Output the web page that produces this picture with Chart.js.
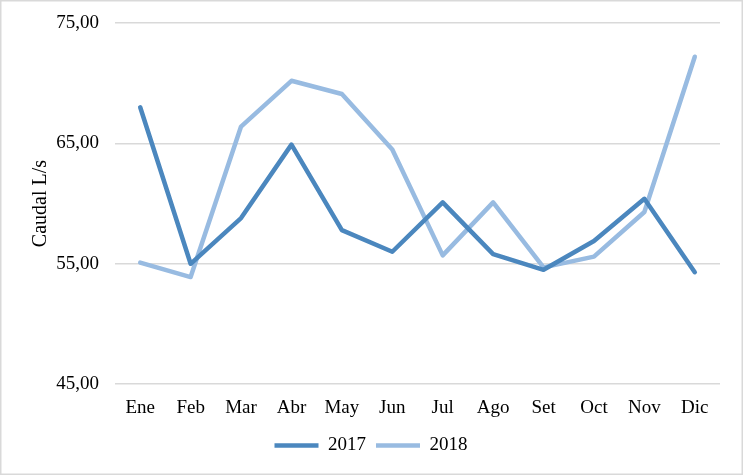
<!DOCTYPE html>
<html>
<head>
<meta charset="utf-8">
<script src="https://cdn.jsdelivr.net/npm/chart.js@4/dist/chart.umd.min.js"></script>
<style>
  html, body { margin: 0; padding: 0; background: #fff; }
  #wrap { width: 743px; height: 475px; }
</style>
</head>
<body>
<div id="wrap"><canvas id="chart"></canvas></div>
<script>
// Datos del gráfico
const meses = ["Ene", "Feb", "Mar", "Abr", "May", "Jun", "Jul", "Ago", "Set", "Oct", "Nov", "Dic"];
const caudal2017 = [68.0, 55.0, 58.8, 64.9, 57.8, 56.0, 60.1, 55.8, 54.5, 56.9, 60.4, 54.3];
const caudal2018 = [55.1, 53.9, 66.4, 70.2, 69.1, 64.5, 55.7, 60.1, 54.7, 55.6, 59.3, 72.2];
const yMin = 45, yMax = 75, yStep = 10;

const fuente = "'Liberation Serif', 'Times New Roman', serif";

// Marco gris alrededor del gráfico
const marco = {
  id: "marco",
  afterDraw(chart) {
    const ctx = chart.ctx;
    ctx.save();
    ctx.strokeStyle = "#d9d9d9";
    ctx.lineWidth = 1.5;
    ctx.strokeRect(0.75, 0.75, chart.width - 1.5, chart.height - 1.5);
    ctx.restore();
  },
};

const ctx = document.getElementById("chart").getContext("2d");
new Chart(ctx, {
  type: "line",
  data: {
    labels: meses,
    datasets: [
      {
        label: "2017",
        data: caudal2017,
        borderColor: "#4b87be",
        backgroundColor: "#4b87be",
        borderWidth: 4.5,
        borderCapStyle: "round",
        borderJoinStyle: "round",
        pointRadius: 0,
        tension: 0,
        fill: false,
      },
      {
        label: "2018",
        data: caudal2018,
        borderColor: "#98bbe1",
        backgroundColor: "#98bbe1",
        borderWidth: 4.5,
        borderCapStyle: "round",
        borderJoinStyle: "round",
        pointRadius: 0,
        tension: 0,
        fill: false,
      },
    ],
  },
  options: {
    responsive: true,
    maintainAspectRatio: false,
    animation: false,
    layout: {
      padding: { left: 22, right: 23, top: 23, bottom: 10 },
    },
    plugins: {
      tooltip: { enabled: false },
      legend: {
        position: "bottom",
        labels: {
          usePointStyle: true,
          pointStyle: "line",
          pointStyleWidth: 44,
          boxHeight: 19,
          color: "#000",
          padding: 10,
          font: { family: fuente, size: 19 },
        },
      },
    },
    scales: {
      x: {
        offset: true,
        afterFit: (scale) => {
          scale.height -= 5;
        },
        grid: { display: false, drawTicks: false },
        border: { display: false },
        ticks: {
          color: "#000",
          padding: 12,
          maxRotation: 0,
          font: { family: fuente, size: 19 },
        },
      },
      y: {
        min: yMin,
        max: yMax,
        afterFit: (scale) => {
          scale.width = 93;
          scale.paddingTop = 0;
          scale.paddingBottom = 0;
        },
        grid: { color: "#d9d9d9", lineWidth: 1.5, drawTicks: false },
        border: { display: false },
        ticks: {
          stepSize: yStep,
          color: "#000",
          padding: 16,
          font: { family: fuente, size: 19 },
          callback: (v) => v.toFixed(2).replace(".", ","),
        },
        title: {
          display: true,
          text: "Caudal L/s",
          color: "#000",
          padding: { top: 7, bottom: 0 },
          font: { family: fuente, size: 20 },
        },
      },
    },
  },
  plugins: [marco],
});
</script>
</body>
</html>
